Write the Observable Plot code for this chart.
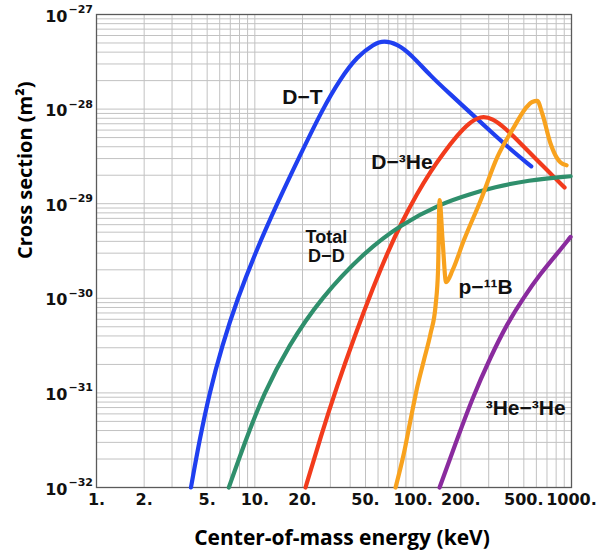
<!DOCTYPE html>
<html><head><meta charset="utf-8">
<script src="https://cdn.jsdelivr.net/npm/d3@7"></script>
<script src="https://cdn.jsdelivr.net/npm/@observablehq/plot@0.6"></script>
<style>html,body{margin:0;padding:0;background:#fff;} svg{display:block}</style>
</head><body><div id="chart"></div>
<script>
// D–T
const dtEnergy = [3.95, 4.47, 5.17, 6.21, 7.78, 10.18, 13.81, 19.16, 26.77, 34.8, 44.3, 56.5, 65.3, 79.4, 96.3, 128.8, 172, 230.5, 308, 412, 557];
const dtSigma  = [1e-32, 3.16e-32, 1e-31, 3.16e-31, 1e-30, 3.16e-30, 1e-29, 3.16e-29, 1e-28, 2.11e-28, 3.6e-28, 4.88e-28, 5.3e-28, 4.88e-28, 3.83e-28, 2.24e-28, 1.43e-28, 9.12e-29, 5.82e-29, 3.75e-29, 2.48e-29];
// D–3He
const dheEnergy = [20.9, 26.0, 33.2, 42.2, 56.5, 68.6, 83.2, 106.2, 128.8, 156.4, 189.9, 223.8, 266.6, 317.4, 383.4, 477, 608, 738, 904];
const dheSigma  = [1e-32, 3.41e-32, 1.21e-31, 3.79e-31, 1.37e-30, 2.99e-30, 6.05e-30, 1.29e-29, 2.2e-29, 3.49e-29, 5.27e-29, 7.06e-29, 8.5e-29, 7.98e-29, 6.25e-29, 4.34e-29, 2.87e-29, 2.08e-29, 1.48e-29];
// Total D–D
const ddEnergy = [6.85, 8.74, 11.43, 16.33, 26.0, 50.0, 83.2, 149, 230.5, 323, 526, 987];
const ddSigma  = [1e-32, 3.16e-32, 1e-31, 3.16e-31, 1e-30, 3.16e-30, 5.98e-30, 1e-29, 1.27e-29, 1.49e-29, 1.77e-29, 1.95e-29];
// p–11B
const pbEnergy = [77.4, 87.4, 96.3, 106.2, 116.9, 128.8, 138.6, 143.6, 146.8, 153.4, 161.4, 177.4, 209, 267, 340, 433, 513, 565, 608, 654, 738, 805, 853, 931];
const pbSigma  = [1e-32, 2.3e-32, 5.2e-32, 1.16e-31, 2.22e-31, 4.25e-31, 8.45e-31, 1.98e-30, 1.09e-29, 4.1e-30, 1.48e-30, 1.98e-30, 4.1e-30, 1.09e-29, 3.11e-29, 6.45e-29, 1.02e-28, 1.19e-28, 1.22e-28, 8.93e-29, 4.31e-29, 3.09e-29, 2.73e-29, 2.55e-29];
// 3He–3He
const hhEnergy = [146.8, 185.3, 236, 308, 393, 500, 638, 813, 987];
const hhSigma  = [1e-32, 2.92e-32, 8.75e-32, 2.4e-31, 5.42e-31, 1.03e-30, 1.83e-30, 2.97e-30, 4.46e-30];

const seriesNames  = ["D-T", "D-3He", "DD", "p-11B", "3He-3He"];
const seriesColors = ["#1f3ff0", "#f23b1c", "#2f8f6c", "#f8a21e", "#8a2b9e"];
const seriesCurve  = ["basis", "basis", "basis", "monotone-x", "basis"];

// curve labels
const labelText   = ["D\u2212T", "D\u2212\u00b3He", "Total", "D\u2212D", "p\u2212\u00b9\u00b9B", "\u00b3He\u2212\u00b3He"];
const labelEnergy = [20, 85, 28.3, 28.3, 287, 513];
const labelSigma  = [1.33e-28, 2.75e-29, 4.42e-30, 2.79e-30, 1.32e-30, 6.86e-32];
const labelSize   = [21, 21, 18, 18, 21, 21];

// axes
const xTickValues = [1, 2, 5, 10, 20, 50, 100, 200, 500, 1000];
const xTickLabels = ["1.", "2.", "5.", "10.", "20.", "50.", "100.", "200.", "500.", "1000."];
const yTickValues = [1e-32, 1e-31, 1e-30, 1e-29, 1e-28, 1e-27];
const yTickExponents = ["\u221232", "\u221231", "\u221230", "\u221229", "\u221228", "\u221227"];
const xTitle = "Center-of-mass energy (keV)";
const yTitle = "Cross section (m\u00b2)";

function build(energy, sigma, name) {
  return energy.map((e, i) => ({energy: e, sigma: sigma[i], name}));
}
const curves = [
  build(dtEnergy, dtSigma, seriesNames[0]),
  build(dheEnergy, dheSigma, seriesNames[1]),
  build(ddEnergy, ddSigma, seriesNames[2]),
  build(pbEnergy, pbSigma, seriesNames[3]),
  build(hhEnergy, hhSigma, seriesNames[4])
];
const labels = labelText.map((t, i) => ({text: t, energy: labelEnergy[i], sigma: labelSigma[i], size: labelSize[i]}));

// minor grid positions (1..9 per decade)
const xGrid = [];
for (let p = 0; p < 3; p++) for (let m = 1; m < 10; m++) xGrid.push(m * Math.pow(10, p));
xGrid.push(1000);
const yGrid = [];
for (let p = -32; p < -27; p++) for (let m = 1; m < 10; m++) yGrid.push(m * Math.pow(10, p));
yGrid.push(1e-27);

const tickFont = "DejaVu Sans, sans-serif";
const labelFont = "Liberation Sans, Arial, Helvetica, sans-serif";
const titleFont = "Open Sans, sans-serif";

const marks = [
  Plot.ruleX(xGrid, {stroke: "#c2c2c2", strokeWidth: 1}),
  Plot.ruleY(yGrid, {stroke: "#c2c2c2", strokeWidth: 1}),
  Plot.frame({stroke: "#5a5a5a", strokeWidth: 1.3}),
  ...curves.map((c, i) => Plot.line(c, {x: "energy", y: "sigma", stroke: seriesColors[i], strokeWidth: 4.2, curve: seriesCurve[i]})),
  Plot.text(labels, {x: "energy", y: "sigma", text: "text", fontSize: "size", fontFamily: labelFont, fontWeight: "bold", fill: "#111"}),
  // x tick labels
  Plot.text(xTickValues, {x: d => d, text: (d, i) => xTickLabels[i], frameAnchor: "bottom", lineAnchor: "top", dy: 6, fontFamily: tickFont, fontWeight: "bold", fontSize: 16, fill: "#111"}),
  // y tick labels: mantissa and exponent
  Plot.text(yTickValues, {y: d => d, text: () => "10", frameAnchor: "left", textAnchor: "end", dx: -29, dy: 2, fontFamily: tickFont, fontWeight: "bold", fontSize: 16, fill: "#111"}),
  Plot.text(yTickValues, {y: d => d, text: (d, i) => yTickExponents[i], frameAnchor: "left", textAnchor: "start", dx: -28, dy: -5, fontFamily: tickFont, fontWeight: "bold", fontSize: 11, fill: "#111"}),
  // axis titles
  Plot.text([xTitle], {frameAnchor: "bottom", lineAnchor: "middle", dy: 51, dx: 8, fontFamily: titleFont, fontWeight: "bold", fontSize: 21, fill: "#000"}),
  Plot.text([yTitle], {frameAnchor: "left", rotate: -90, dx: -71, dy: 8, fontFamily: titleFont, fontWeight: "bold", fontSize: 20, fill: "#000"})
];

const chart = Plot.plot({
  width: 596,
  height: 559,
  marginLeft: 96,
  marginRight: 25,
  marginTop: 14,
  marginBottom: 72,
  x: {type: "log", domain: [1, 1000], axis: null},
  y: {type: "log", domain: [1e-32, 1e-27], axis: null},
  style: {background: "#fff", overflow: "visible"},
  marks
});
document.getElementById("chart").appendChild(chart);
</script>
</body></html>
